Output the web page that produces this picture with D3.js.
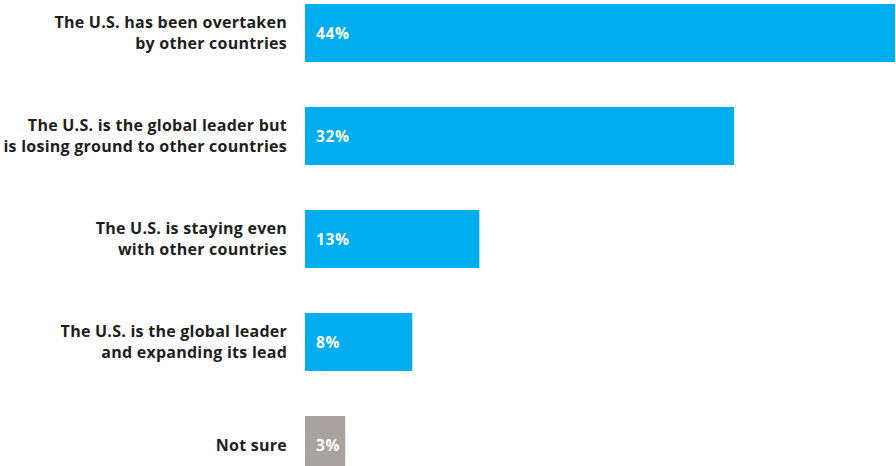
<!DOCTYPE html>
<html>
<head>
<meta charset="utf-8">
<script src="https://cdn.jsdelivr.net/npm/d3@7"></script>
<style>
  html, body { margin: 0; padding: 0; background: #fff; }
  svg { display: block; }
</style>
</head>
<body>
<svg id="chart" width="896" height="466"></svg>
<script>
// Survey responses: where the U.S. stands relative to other countries
const categories = [
  ["The U.S. has been overtaken", "by other countries"],
  ["The U.S. is the global leader but", "is losing ground to other countries"],
  ["The U.S. is staying even", "with other countries"],
  ["The U.S. is the global leader", "and expanding its lead"],
  ["Not sure"]
];
const values = [44, 32, 13, 8, 3];
const valueLabels = ["44%", "32%", "13%", "8%", "3%"];
const barColors = ["#00adee", "#00adee", "#00adee", "#00adee", "#a8a3a1"];

const svg = d3.select("#chart");
const font = "'Open Sans', Lato, sans-serif";

const x = d3.scaleLinear().domain([0, 44]).range([305, 895]);
const y = d3.scaleBand()
  .domain(d3.range(values.length))
  .range([4, 474])
  .paddingInner(0.437)
  .paddingOuter(0);

const rows = svg.selectAll("g.row")
  .data(values.map((v, i) => ({ v, i })))
  .join("g")
  .attr("class", "row");

rows.append("rect")
  .attr("x", x(0))
  .attr("y", d => y(d.i))
  .attr("width", d => x(d.v) - x(0))
  .attr("height", y.bandwidth())
  .attr("fill", d => barColors[d.i]);

rows.append("text")
  .attr("x", x(0) + 11)
  .attr("y", d => y(d.i) + y.bandwidth() / 2)
  .attr("dy", "0.36em")
  .attr("fill", "#fff")
  .attr("font-family", font)
  .attr("font-weight", 700)
  .attr("font-size", 15.5)
  .attr("letter-spacing", "0.6px")
  .text(d => valueLabels[d.i]);

const labels = rows.append("text")
  .attr("text-anchor", "end")
  .attr("fill", "#1e1e1e")
  .attr("font-family", font)
  .attr("font-weight", 700)
  .attr("font-size", 16)
  .attr("letter-spacing", "0.25px")
  .attr("x", 287)
  .attr("y", d => {
    const n = categories[d.i].length;
    return y(d.i) + y.bandwidth() / 2 - (n - 1) * 10.5;
  });

labels.selectAll("tspan")
  .data(d => categories[d.i])
  .join("tspan")
  .attr("x", 287)
  .attr("dy", (t, j) => j === 0 ? "0.36em" : "21px")
  .text(t => t);
</script>
</body>
</html>
